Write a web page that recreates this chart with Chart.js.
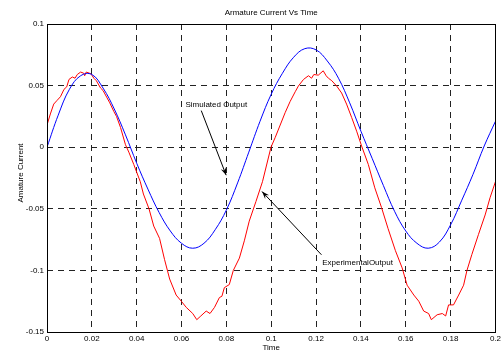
<!DOCTYPE html>
<html>
<head>
<meta charset="utf-8">
<script src="https://cdn.jsdelivr.net/npm/chart.js@4.4.0/dist/chart.umd.min.js"></script>
<style>
    html, body { margin: 0; padding: 0; background: #ffffff; }
    canvas { display: block; }
</style>
</head>
<body>
<canvas id="myChart" width="503" height="354"></canvas>
<script>
// simulated output, every 5 ms
const simTime = [0, 0.005, 0.01, 0.015, 0.02, 0.025, 0.03, 0.035, 0.04, 0.045,
    0.05, 0.055, 0.06, 0.065, 0.07, 0.075, 0.08, 0.085, 0.09, 0.095,
    0.1, 0.105, 0.11, 0.115, 0.12, 0.125, 0.13, 0.135, 0.14, 0.145,
    0.15, 0.155, 0.16, 0.165, 0.17, 0.175, 0.18, 0.185, 0.19, 0.195, 0.2];
const simCurrent = [0, 0.026, 0.047, 0.058, 0.059, 0.048, 0.031, 0.01, -0.013, -0.034,
    -0.053, -0.068, -0.078, -0.082, -0.078, -0.067, -0.051, -0.029, -0.004, 0.021,
    0.043, 0.06, 0.073, 0.08, 0.079, 0.07, 0.056, 0.036, 0.013, -0.009,
    -0.031, -0.052, -0.068, -0.078, -0.082, -0.077, -0.063, -0.043, -0.022, 0.001, 0.021];

// experimental output (noisy)
const expTime = [0, 0.0015, 0.003, 0.0045, 0.006, 0.0076, 0.0088, 0.0098, 0.0113, 0.0125,
    0.0135, 0.015, 0.0164, 0.0168, 0.0175, 0.019, 0.0196, 0.0209, 0.022, 0.0239,
    0.025, 0.0268, 0.028, 0.0298, 0.031, 0.0328, 0.035, 0.0365, 0.0387, 0.0416,
    0.043, 0.0455, 0.0476, 0.0502, 0.0524, 0.0547, 0.0576, 0.0599, 0.0621, 0.065,
    0.0668, 0.0686, 0.071, 0.0727, 0.0747, 0.0769, 0.078, 0.0791, 0.0813, 0.0831,
    0.0858, 0.088, 0.0902, 0.0932, 0.0961, 0.0999, 0.1018, 0.104, 0.1062, 0.1084,
    0.1107, 0.1121, 0.1144, 0.1166, 0.118, 0.119, 0.121, 0.1232, 0.1245, 0.1255,
    0.127, 0.1292, 0.1314, 0.1336, 0.1359, 0.1381, 0.1403, 0.1433, 0.1462, 0.1492,
    0.1521, 0.1554, 0.1584, 0.1606, 0.1636, 0.1658, 0.168, 0.1702, 0.1714, 0.174,
    0.1763, 0.1778, 0.1791, 0.1813, 0.1836, 0.1858, 0.1873, 0.1895, 0.1924, 0.1954,
    0.1976, 0.2];
const expCurrent = [0.018, 0.027, 0.035, 0.038, 0.041, 0.047, 0.049, 0.055, 0.057, 0.056,
    0.059, 0.061, 0.06, 0.058, 0.061, 0.06, 0.0595, 0.056, 0.054, 0.048,
    0.046, 0.04, 0.036, 0.029, 0.025, 0.016, 0.002, -0.004, -0.014, -0.028,
    -0.038, -0.05, -0.064, -0.074, -0.091, -0.107, -0.12, -0.125, -0.13, -0.135,
    -0.14, -0.137, -0.133, -0.135, -0.13, -0.122, -0.121, -0.114, -0.1115, -0.1,
    -0.09, -0.076, -0.06, -0.044, -0.028, 0, 0.008, 0.018, 0.028, 0.037,
    0.045, 0.0496, 0.055, 0.058, 0.056, 0.059, 0.0585, 0.062, 0.058, 0.056,
    0.054, 0.0496, 0.044, 0.035, 0.024, 0.013, 0.001, -0.014, -0.033, -0.049,
    -0.066, -0.084, -0.098, -0.112, -0.12, -0.125, -0.133, -0.135, -0.14, -0.136,
    -0.135, -0.137, -0.128, -0.128, -0.12, -0.112, -0.1, -0.087, -0.071, -0.055,
    -0.041, -0.028];

const FONT = "'Liberation Sans', Arial, sans-serif";

function toPoints(xs, ys) {
    return xs.map((x, i) => ({ x: x, y: ys[i] }));
}

function tickText(v) {
    return String(Math.round(v * 100) / 100);
}

// text labels with arrows, given in data units
const notes = [
    { text: "Simulated Output", at: [0.0755, 0.0345], from: [0.0688, 0.0297], to: [0.0799, -0.0227] },
    { text: "ExperimentalOutput", at: [0.1385, -0.0935], from: [0.1224, -0.0873], to: [0.0959, -0.036] },
];

// box round the plot, titles and the arrows
const framePlugin = {
    id: "frame",
    afterDraw(chart) {
        const ctx = chart.ctx;
        const a = chart.chartArea;
        const xs = chart.scales.x, ys = chart.scales.y;
        ctx.save();
        ctx.strokeStyle = "#000";
        ctx.lineWidth = 1;
        ctx.setLineDash([]);
        ctx.strokeRect(Math.round(a.left) + 0.5, Math.round(a.top) + 0.5,
            Math.round(a.right - a.left), Math.round(a.bottom - a.top));

        ctx.fillStyle = "#000";
        ctx.font = "8px " + FONT;
        ctx.textAlign = "center";
        ctx.textBaseline = "middle";
        ctx.fillText("Armature Current Vs Time", (a.left + a.right) / 2, 13);

        // y axis title, sits a little above the middle in the original
        ctx.save();
        ctx.translate(a.left - 26, (a.top + a.bottom) / 2 - 5);
        ctx.rotate(-Math.PI / 2);
        ctx.fillText("Amature Current", 0, 0);
        ctx.restore();

        notes.forEach((n) => {
            ctx.fillText(n.text, xs.getPixelForValue(n.at[0]), ys.getPixelForValue(n.at[1]));
            const x1 = xs.getPixelForValue(n.from[0]), y1 = ys.getPixelForValue(n.from[1]);
            const x2 = xs.getPixelForValue(n.to[0]), y2 = ys.getPixelForValue(n.to[1]);
            ctx.beginPath();
            ctx.moveTo(x1, y1);
            ctx.lineTo(x2, y2);
            ctx.stroke();
            const ang = Math.atan2(y2 - y1, x2 - x1);
            const len = 8, w = 0.35;
            ctx.beginPath();
            ctx.moveTo(x2, y2);
            ctx.lineTo(x2 - len * Math.cos(ang - w), y2 - len * Math.sin(ang - w));
            ctx.lineTo(x2 - len * 0.6 * Math.cos(ang), y2 - len * 0.6 * Math.sin(ang));
            ctx.lineTo(x2 - len * Math.cos(ang + w), y2 - len * Math.sin(ang + w));
            ctx.closePath();
            ctx.fill();
        });
        ctx.restore();
    },
};

const ctx = document.getElementById("myChart").getContext("2d");
const graph = {
    type: "line",
    data: {
        datasets: [
            {
                label: "Simulated Output",
                data: toPoints(simTime, simCurrent),
                borderColor: "#0000ff",
                borderWidth: 1,
                pointRadius: 0,
                tension: 0.4,
                fill: false,
            },
            {
                label: "Experimental Output",
                data: toPoints(expTime, expCurrent),
                borderColor: "#ff0000",
                borderWidth: 1,
                pointRadius: 0,
                tension: 0,
                fill: false,
            },
        ],
    },
    options: {
        responsive: false,
        animation: false,
        layout: { padding: { top: 24, right: 5.5, left: 0, bottom: 0 } },
        plugins: {
            legend: { display: false },
            tooltip: { enabled: false },
        },
        scales: {
            x: {
                type: "linear",
                min: 0,
                max: 0.2,
                afterFit: (scale) => { scale.height = 22; },
                ticks: {
                    stepSize: 0.02,
                    padding: 2,
                    color: "#000",
                    font: { family: FONT, size: 8 },
                    maxRotation: 0,
                    callback: tickText,
                },
                grid: { color: "#222", lineWidth: 1, drawTicks: false },
                border: { display: false, dash: [6, 5] },
                title: {
                    display: true,
                    text: "Time",
                    color: "#000",
                    font: { family: FONT, size: 8 },
                    padding: { top: 0, bottom: 1 },
                },
            },
            y: {
                type: "linear",
                min: -0.15,
                max: 0.1,
                afterFit: (scale) => { scale.width = 47; },
                ticks: {
                    stepSize: 0.05,
                    padding: 3,
                    color: "#000",
                    font: { family: FONT, size: 8 },
                    callback: tickText,
                },
                grid: { color: "#222", lineWidth: 1, drawTicks: false },
                border: { display: false, dash: [6, 5] },
            },
        },
    },
    plugins: [framePlugin],
};
new Chart(ctx, graph);
</script>
</body>
</html>
